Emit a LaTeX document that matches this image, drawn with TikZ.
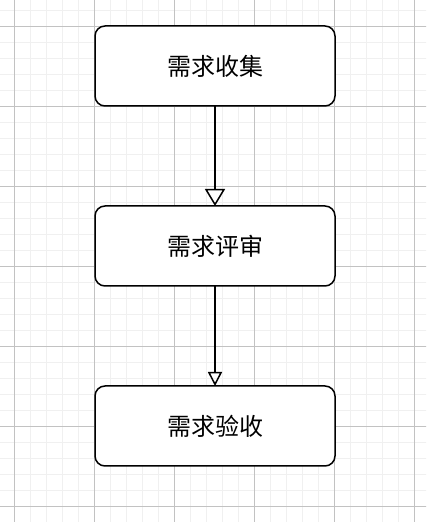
\documentclass[tikz,border=0pt]{standalone}
\usepackage{fontspec}
\newfontfamily\cjk{Noto Sans CJK SC}
\usetikzlibrary{positioning}
\usetikzlibrary{arrows.meta}
\tikzset{
    stepbox/.style={draw=black, line width=1.5pt, rounded corners=10pt, fill=white,
        minimum width=240pt, minimum height=80pt, inner sep=0pt, outer sep=0pt,
        font=\cjk\fontsize{24}{24}\selectfont},
    flow/.style={draw=black, line width=1.5pt}
}
\begin{document}
\begin{tikzpicture}[x=1pt,y=1pt]
        \useasboundingbox (0,0) rectangle (426,522);
        % grid
        \begin{scope}
            \clip (0,0) rectangle (426,522);
            \draw[black!6, line width=0.8pt, shift={(14,0)}, step=16pt] (-16,-16) grid (432,540);
            \draw[black!24, line width=0.8pt, shift={(14,16)}, step=80pt] (-80,-80) grid (480,560);
        \end{scope}

        % boxes
        \node[stepbox] (collect) at (215,456) {需求收集};
        \node[stepbox, below=100pt of collect] (review) {需求评审};
        \node[stepbox, below=100pt of review] (accept) {需求验收};

        % arrows
        \draw[flow, -{Triangle[open, width=20pt, length=17pt, line width=1.5pt]}] (collect.south) -- (review.north);
        \draw[flow, -{Triangle[open, width=14pt, length=14pt, line width=1.5pt]}] (review.south) -- (accept.north);
\end{tikzpicture}
\end{document}
